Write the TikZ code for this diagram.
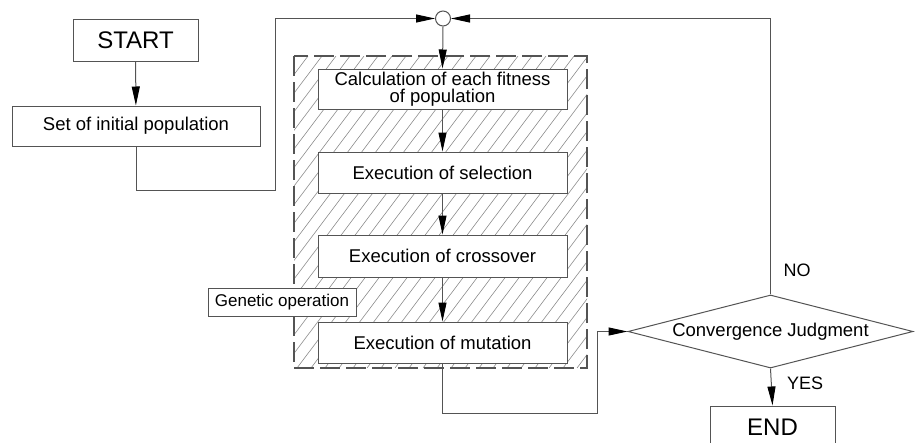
\documentclass[tikz,border=0pt]{standalone}
\usepackage{fontspec}
\setmainfont{Liberation Sans}
\usetikzlibrary{arrows.meta,shapes.geometric}
\definecolor{ln}{gray}{0.33}
\definecolor{hatchcol}{gray}{0.55}
\begin{document}
\begin{tikzpicture}[x=1pt,y=-1pt,
  box/.style={draw=ln, fill=white, line width=1pt, inner sep=0pt, align=center, text=black},
  big/.style={font=\fontsize{24}{28}\selectfont},
  mid/.style={font=\fontsize{18.5}{17}\selectfont},
  small/.style={font=\fontsize{17}{19}\selectfont},
  arr/.style={draw=ln, line width=1pt, -{Triangle[length=19pt,width=8pt,color=black]}},
  hatch/.style={draw=hatchcol, line width=0.6pt},
  region/.style={draw=ln, line width=1.2pt, dash pattern=on 20pt off 6pt},
]
\clip (0,0) rectangle (917,442);
\useasboundingbox (0,0) rectangle (917,442);

% hatched region of the genetic operation
\begin{scope}
  \clip (294,56) rectangle (587,368);
  \foreach \a in {59,73,...,600} \draw[hatch] (\a,368) -- ++(235,-312);
\end{scope}
\draw[region] (294,56) rectangle (587,368);

% process boxes
\node[box, big, minimum width=125, minimum height=42] (start) at (135.5,40) {START};
\node[box, mid, minimum width=248, minimum height=40] (set) at (136,126) {Set of initial population};
\node[box, mid, minimum width=249, minimum height=40] (calc) at (442.5,89) {Calculation of each fitness\\of population};
\node[box, mid, minimum width=249, minimum height=41] (sel) at (442.5,172.5) {Execution of selection};
\node[box, mid, minimum width=249, minimum height=42] (cross) at (442.5,256) {Execution of crossover};
\node[box, mid, minimum width=249, minimum height=41] (mut) at (442.5,342.5) {Execution of mutation};
\node[box, small, minimum width=148, minimum height=28] (gen) at (282,302) {Genetic operation};
\node[box, big, minimum width=125, minimum height=42] (end) at (772.5,427) {END};

% junction circle
\node[draw=ln, fill=white, line width=1pt, circle, minimum size=15, inner sep=0pt] (circ) at (443,18.5) {};

% decision
\node[draw=ln, fill=white, line width=1pt, diamond, shape aspect=3.52, minimum width=285, inner sep=0pt, mid] (dia) at (770.5,331.5) {Convergence Judgment};

% labels
\node[font=\fontsize{18}{20}\selectfont] (no) at (797,270) {NO};
\node[font=\fontsize{18}{20}\selectfont] (yes) at (805,383.5) {YES};

% connectors
\coordinate (j1) at (275,190);
\coordinate (j2) at (597,413);
\draw[arr] (start) -- (set);
\draw[arr] (set.south) |- (j1) |- (circ.west);
\draw[arr] (circ.south) -- (calc.north);
\draw[arr] (calc) -- (sel);
\draw[arr] (sel) -- (cross);
\draw[arr] (cross) -- (mut);
\draw[arr] (mut.south) |- (j2) |- (dia.west);
\draw[arr] (dia.north) |- (circ.east);
\draw[arr] (dia.south) -- (end.north);
\end{tikzpicture}
\end{document}
